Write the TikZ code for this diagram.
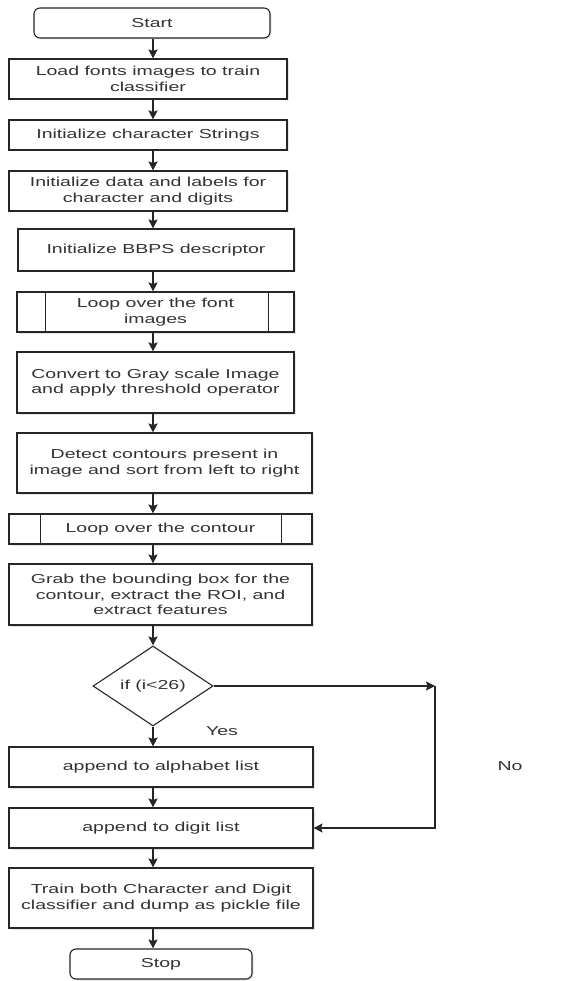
\documentclass[tikz,border=0pt]{standalone}
\usepackage{fontspec}
\setmainfont{Liberation Sans}[FakeStretch=1.5]
\usetikzlibrary{shapes.geometric,arrows.meta,shadows}
\begin{document}
\begin{tikzpicture}[x=1pt,y=-1pt,
  every node/.style={font=\fontsize{13}{15.5}\selectfont, text=black!80},
  box/.style={draw=black!85, line width=1.1pt, fill=white, align=center, inner sep=0pt,
    drop shadow={opacity=0.2, shadow xshift=1.5pt, shadow yshift=-1.5pt}},
  term/.style={box, rounded corners=6pt},
  dec/.style={draw=black!85, line width=1.1pt, fill=white, diamond, aspect=1.5, inner sep=0pt},
  arr/.style={draw=black!85, line width=1.1pt, -{Stealth[length=9pt,width=9pt,inset=1.5pt]}},
  sub/.style={draw=black!85, line width=1.1pt}
]
\useasboundingbox (0,0) rectangle (560,981);
\fill[white] (0,0) rectangle (560,981);

\node[term, minimum width=236pt, minimum height=30pt] (start) at (152,23) {Start};
\node[box, minimum width=278pt, minimum height=40pt] (load) at (148,79) {Load fonts images to train\\classifier};
\node[box, minimum width=278pt, minimum height=30pt] (istr) at (148,135) {Initialize character Strings};
\node[box, minimum width=278pt, minimum height=40pt] (idata) at (148,191) {Initialize data and labels for\\character and digits};
\node[box, minimum width=276pt, minimum height=42pt] (bbps) at (156,250) {Initialize BBPS descriptor};
\node[box, minimum width=277pt, minimum height=40pt] (lfont) at (155.5,312) {Loop over the font\\images};
\node[box, minimum width=277pt, minimum height=61pt] (conv) at (155.5,382.5) {Convert to Gray scale Image\\and apply threshold operator};
\node[box, minimum width=295pt, minimum height=60pt] (detect) at (164.5,463) {Detect contours present in\\image and sort from left to right};
\node[box, minimum width=303pt, minimum height=30pt] (lcont) at (160.5,529) {Loop over the contour};
\node[box, minimum width=303pt, minimum height=61pt] (grab) at (160.5,594.5) {Grab the bounding box for the\\contour, extract the ROI, and\\extract features};
\node[dec, minimum width=120pt, minimum height=80pt] (cond) at (153,686) {if (i<26)};
\node[box, minimum width=304pt, minimum height=40pt] (alpha) at (161,767) {append to alphabet list};
\node[box, minimum width=304pt, minimum height=40pt] (digit) at (161,828) {append to digit list};
\node[box, minimum width=304pt, minimum height=60pt] (train) at (161,898) {Train both Character and Digit\\classifier and dump as pickle file};
\node[term, minimum width=182pt, minimum height=30pt] (stop) at (161,964) {Stop};

% subprocess side bars
\draw[sub] ([xshift=29pt]lfont.north west) -- ([xshift=29pt]lfont.south west);
\draw[sub] ([xshift=-26pt]lfont.north east) -- ([xshift=-26pt]lfont.south east);
\draw[sub] ([xshift=32pt]lcont.north west) -- ([xshift=32pt]lcont.south west);
\draw[sub] ([xshift=-31pt]lcont.north east) -- ([xshift=-31pt]lcont.south east);

% main flow
\coordinate (ax) at (153,0);
\foreach \a/\b in {start/load, load/istr, istr/idata, idata/bbps, bbps/lfont, lfont/conv,
  conv/detect, detect/lcont, lcont/grab, grab/cond, cond/alpha, alpha/digit, digit/train, train/stop}
  \draw[arr] (\a.south -| ax) -- (\b.north -| ax);

% No branch
\coordinate (nc) at (435,686);
\draw[arr] (cond.east) -- (nc);
\draw[arr] (nc) |- (digit.east);

\node (yes) at (222,731) {Yes};
\node (no) at (510,766) {No};
\end{tikzpicture}
\end{document}
